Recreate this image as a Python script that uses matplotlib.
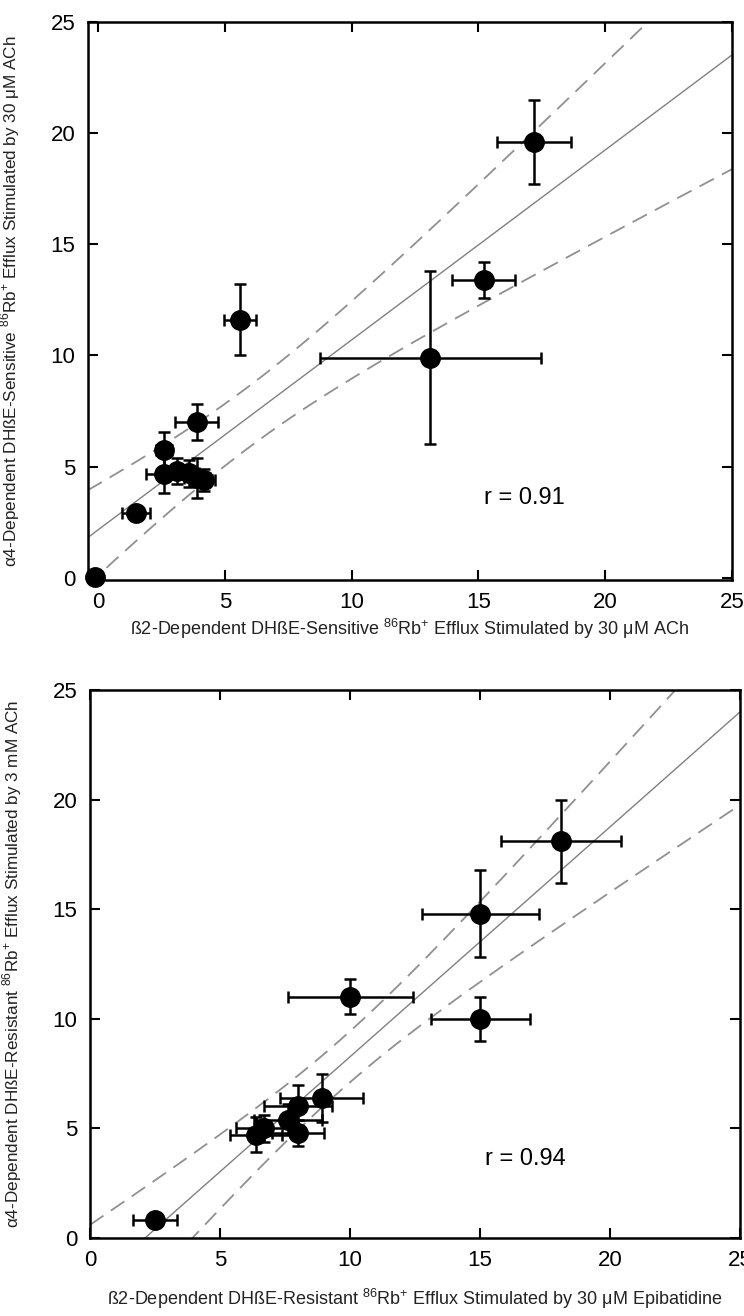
import matplotlib
matplotlib.use("Agg")
import matplotlib.pyplot as plt
import numpy as np

plt.rcParams["font.family"] = ["Liberation Sans", "DejaVu Sans"]
plt.rcParams["mathtext.fontset"] = "custom"
plt.rcParams["mathtext.rm"] = "Liberation Sans"

# top panel: DHbE-sensitive, 30 uM ACh
top_x = [-0.1, 1.5, 2.6, 2.6, 3.1, 3.6, 3.9, 4.2, 3.9, 5.6, 13.1, 15.2, 17.2]
top_y = [0.05, 2.9, 5.75, 4.65, 4.8, 4.7, 4.5, 4.4, 7.0, 11.6, 9.9, 13.4, 19.6]
top_xerr = [0.0, 0.55, 0.3, 0.7, 0.5, 0.4, 0.5, 0.4, 0.85, 0.65, 4.35, 1.25, 1.45]
top_yerr = [0.0, 0.3, 0.8, 0.85, 0.6, 0.6, 0.9, 0.5, 0.8, 1.6, 3.9, 0.8, 1.9]
top_r = "r = 0.91"

# bottom panel: DHbE-resistant, 3 mM ACh vs 30 uM epibatidine
bot_x = [2.5, 6.4, 6.7, 7.6, 8.0, 8.0, 8.9, 10.0, 15.0, 15.0, 18.1]
bot_y = [0.8, 4.7, 5.0, 5.4, 6.0, 4.8, 6.4, 11.0, 14.8, 10.0, 18.1]
bot_xerr = [0.85, 1.0, 1.1, 1.3, 1.3, 1.0, 1.6, 2.4, 2.25, 1.9, 2.3]
bot_yerr = [0.2, 0.8, 0.6, 0.7, 1.0, 0.6, 1.1, 0.8, 2.0, 1.0, 1.9]
bot_r = "r = 0.94"

# two-sided 95% t values for n-2 degrees of freedom
T_CRIT = {9: 2.262, 11: 2.201}

top_xlabel = "ß2-Dependent DHßE-Sensitive $^{86}$Rb$^{+}$ Efflux Stimulated by 30 μM ACh"
top_ylabel = "α4-Dependent DHßE-Sensitive $^{86}$Rb$^{+}$ Efflux Stimulated by 30 μM ACh"
bot_xlabel = "ß2-Dependent DHßE-Resistant $^{86}$Rb$^{+}$ Efflux Stimulated by 30 μM Epibatidine"
bot_ylabel = "α4-Dependent DHßE-Resistant $^{86}$Rb$^{+}$ Efflux Stimulated by 3 mM ACh"


def panel(ax, x, y, xerr, yerr, rtext, xlabel, ylabel, xlim, ylim, xlab_y):
    x = np.array(x)
    y = np.array(y)
    n = len(x)
    slope, icpt = np.polyfit(x, y, 1)
    resid = y - (slope * x + icpt)
    s = np.sqrt(np.sum(resid ** 2) / (n - 2))
    sxx = np.sum((x - x.mean()) ** 2)
    xx = np.linspace(xlim[0], xlim[1], 200)
    yy = slope * xx + icpt
    hw = T_CRIT[n - 2] * s * np.sqrt(1 / n + (xx - x.mean()) ** 2 / sxx)

    ax.plot(xx, yy, color="#808080", lw=1.0)
    ax.plot(xx, yy + hw, color="#909090", lw=1.3, dashes=(9, 5))
    ax.plot(xx, yy - hw, color="#909090", lw=1.3, dashes=(9, 5))
    ax.errorbar(x, y, xerr=xerr, yerr=yerr, fmt="o", color="black",
                ms=14, lw=1.8, capsize=4.5, capthick=1.8, clip_on=False, zorder=5)

    ax.text(15.2, 3.6, rtext, fontsize=17, va="center")
    ax.set_xlim(*xlim)
    ax.set_ylim(*ylim)
    ax.set_xticks([0, 5, 10, 15, 20, 25])
    ax.set_yticks([0, 5, 10, 15, 20, 25])
    ax.tick_params(direction="in", length=7, width=1.5, labelsize=16,
                   top=True, right=True, pad=9)
    for sp in ax.spines.values():
        sp.set_linewidth(1.8)
    ax.set_xlabel(xlabel, fontsize=13, color="#222222")
    ax.set_ylabel(ylabel, fontsize=12.3, color="#222222")
    ax.xaxis.set_label_coords(0.5, xlab_y)
    ax.yaxis.set_label_coords(-0.102, 0.5)


fig = plt.figure(figsize=(7.44, 13.16), dpi=100)
ax1 = fig.add_axes([0.118, 0.5593, 0.866, 0.424])
ax2 = fig.add_axes([0.121, 0.0593, 0.874, 0.4164])

panel(ax1, top_x, top_y, top_xerr, top_yerr, top_r, top_xlabel, top_ylabel,
      (-0.4, 25), (-0.1, 25), -0.066)
panel(ax2, bot_x, bot_y, bot_xerr, bot_yerr, bot_r, bot_xlabel, bot_ylabel,
      (0, 25), (0, 25), -0.09)

fig.savefig("out.png", dpi=100)
